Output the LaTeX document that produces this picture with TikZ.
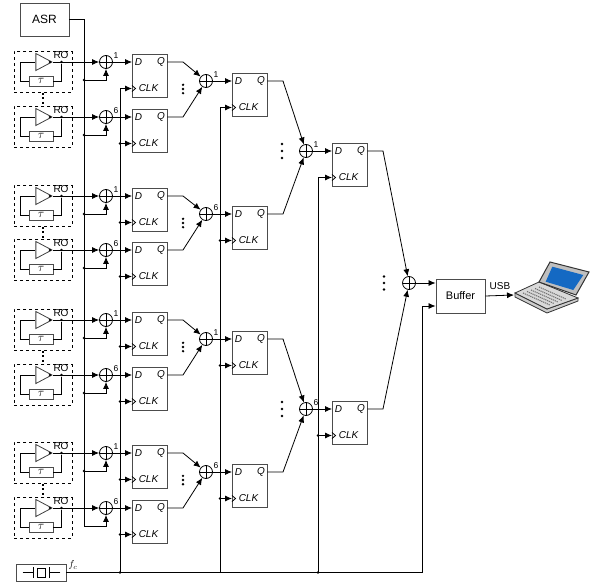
\documentclass[tikz,border=0pt]{standalone}
\usepackage{fontspec}
\setmainfont{Liberation Sans}
\usepackage{amsmath}
\usetikzlibrary{positioning, arrows.meta, calc, shapes.geometric}
\definecolor{screenblue}{RGB}{20,105,195}

\begin{document}
\begin{tikzpicture}[
    x=1pt, y=-1pt,
    line width=0.8pt,
    box/.style={draw=black!70, line width=0.9pt, inner sep=0pt, align=center},
    ffbox/.style={box, anchor=north west, minimum width=34.5pt, minimum height=43pt},
    rocell/.style={draw, dashed, anchor=north west, minimum width=57.5pt, minimum height=41pt, inner sep=0pt},
    amp/.style={draw=black!75, isosceles triangle, isosceles triangle stretches, minimum width=17pt, minimum height=16pt, inner sep=0pt},
    delay/.style={box, minimum width=24pt, minimum height=10pt, font=\fontsize{13}{10}\selectfont},
    xorg/.style={draw, circle, minimum size=13pt, inner sep=0pt,
      path picture={\draw (path picture bounding box.north) -- (path picture bounding box.south)
        (path picture bounding box.west) -- (path picture bounding box.east);}},
    dot/.style={circle, fill=black, minimum size=2.6pt, inner sep=0pt},
    ar/.style={-{Latex[length=7pt,width=6pt]}},
    tag/.style={inner sep=0pt, font=\fontsize{10}{10}\selectfont},
    pin/.style={inner sep=0pt, font=\fontsize{10}{10}\selectfont\itshape},
    num/.style={inner sep=0pt, font=\fontsize{8.5}{8.5}\selectfont},
    dotcol/.style={line width=2pt, dash pattern=on 2pt off 2.5pt},
  ]
  \useasboundingbox (0,0) rectangle (601,585);

  \node[box, minimum width=49pt, minimum height=33pt, font=\fontsize{12}{12}\selectfont] (asr) at (44.5,19.5) {ASR};
  \node[box, minimum width=50pt, minimum height=17pt] (xtal) at (41,572.5) {};
  \node[inner sep=0pt, font=\fontsize{10}{10}\selectfont] (fc) at (73,565) {$f_c$};
  \node[box, minimum width=49pt, minimum height=34pt, font=\fontsize{11}{11}\selectfont] (buffer) at (460.5,296) {Buffer};
  \node[xorg] (xz) at (409,283) {};
  \coordinate (laptop) at (514,295);
  \coordinate (bufbus) at (422,572.5);
  \coordinate (bufin) at ([yshift=-10pt]buffer.west);
  \node[tag] (usb) at (500,286.5) {USB};

  \draw (xtal.west) ++(7,0) coordinate (xl) -- ++(10.5,0) coordinate (xm) (xm) ++(0,-5.5) -- ++(0,11);
  \draw (xtal.east) ++(-6,0) coordinate (xr) -- ++(-11,0) coordinate (xn) (xn) ++(0,-5.5) -- ++(0,11);
  \draw (37.5,568) rectangle (45.5,577);

  \foreach \n/\x/\r/\l/\c in {a1/132/62/1/120, a2/132/117/6/120, a3/132/196/1/120, a4/132/250/6/120,
      a5/132/320/1/120, a6/132/375/6/120, a7/132/453/1/120, a8/132/508/6/120,
      s1/232/81/1/220, s2/232/214/6/220, s3/232/339/1/220, s4/232/472/6/220,
      t1/332/151/1/318, t2/332/409/6/318} {
    \node[xorg] (x\n) at (\x-26,\r) {};
    \node[num] (l\n) at (\x-16,\r-6) {\l};
    \node[ffbox] (ff\n) at (\x,\r-8) {};
    \node[pin] (d\n) at (\x+6.5,\r+0.5) {D};
    \node[pin] (q\n) at (\x+29,\r-0.5) {Q};
    \node[pin] (clk\n) at (\x+16.5,\r+26.5) {CLK};
    \coordinate (ck\n) at (\c,\r+26.5);
    \coordinate (qc\n) at (\x+51,\r);
    \draw[ar] (x\n.east) -- (x\n -| ff\n.west);
    \draw[ar] (ck\n) -- (ck\n -| ff\n.west);
    \draw (\x,\r+23.5) -- (\x+3.5,\r+26.5) -- (\x,\r+29.5);
  }

  \foreach \n/\r in {a1/62, a2/117, a3/196, a4/250, a5/320, a6/375, a7/453, a8/508} {
    \node[rocell] (cell\n) at (14,\r-11) {};
    \node[amp] (amp\n) at (41,\r) {};
    \node[delay] (tau\n) at (41,\r+19) {$\tau$};
    \node[tag] (ro\n) at (61,\r-6.5) {RO};
    \node[dot] (ampo\n) at (50,\r) {};
    \node[dot] (tap\n) at (61.5,\r) {};
    \coordinate (bk\n) at (20,\r);
    \coordinate (en\n) at (84,\r+18);
    \draw[ar] (amp\n.east) -- (x\n.west);
    \draw (tap\n) |- (tau\n.east);
    \draw (tau\n.west) -| (bk\n) -- (amp\n.west);
    \draw[ar] (en\n) -| (x\n.south);
  }

  \draw (asr.east) -| (ena8);
  \foreach \n in {a1,a2,a3,a4,a5,a6,a7} {
    \node[dot] (end\n) at (en\n) {};
  }
  \foreach \n in {a2,a3,a4,a5,a6,a7,a8,s2,s3,s4,t2} {
    \node[dot] (ckd\n) at (ck\n) {};
  }

  \draw (cka1) -- (cka1 |- xtal);
  \draw (cks1) -- (cks1 |- xtal);
  \draw (ckt1) -- (ckt1 |- xtal);
  \node[dot] (bota) at (cka1 |- xtal) {};
  \node[dot] (bott) at (ckt1 |- xtal) {};
  \draw (xtal.east) -- (bufbus);
  \draw[ar] (bufbus) |- (bufin);

  \foreach \a/\b in {a1/s1, a2/s1, a3/s2, a4/s2, a5/s3, a6/s3, a7/s4, a8/s4, s1/t1, s2/t1, s3/t2, s4/t2, t1/z, t2/z} {
    \draw[ar] (x\a -| ff\a.east) -- (qc\a) -- (x\b);
  }
  \draw[ar] (xz.east) -- (xz -| buffer.west);
  \draw[ar] (buffer.east) -- (laptop);

  \foreach \a/\b in {a1/a2, a3/a4, a5/a6, a7/a8} {
    \draw[dotcol] (cell\a.south) -- (cell\b.north);
  }
  \foreach \x/\y/\s in {183/89/4.2, 183/223/4.2, 183/347/4.2, 183/480/4.2, 282/151/7, 282/409/7, 384/283/6.5} {
    \foreach \k in {-1,0,1} {
      \fill (\x,\y+\k*\s) circle (1.3);
    }
  }

  \fill[black!20, draw=black!80] (515,293) -- (547,309) -- (578,298) -- (578,301) -- (547,313) -- (515,297) -- cycle;
  \fill[black!15, draw=black!80] (515,293) -- (539,282) -- (578,298) -- (547,309) -- cycle;
  \draw[black!55, line width=1.1pt, dash pattern=on 1.2pt off 0.8pt]
    (523,293) -- (550,305) (527,291.5) -- (554,303.5) (531,290) -- (558,302) (535,288.5) -- (562,300.5) (539,287) -- (566,299);
  \fill[black!25, draw=black!80, line width=1pt] (539,282) -- (550,262) -- (589,272) -- (576,295) -- cycle;
  \fill[screenblue] (545.7,281.7) -- (552.3,266.7) -- (583.3,275) -- (573.3,290) -- cycle;
\end{tikzpicture}
\end{document}
